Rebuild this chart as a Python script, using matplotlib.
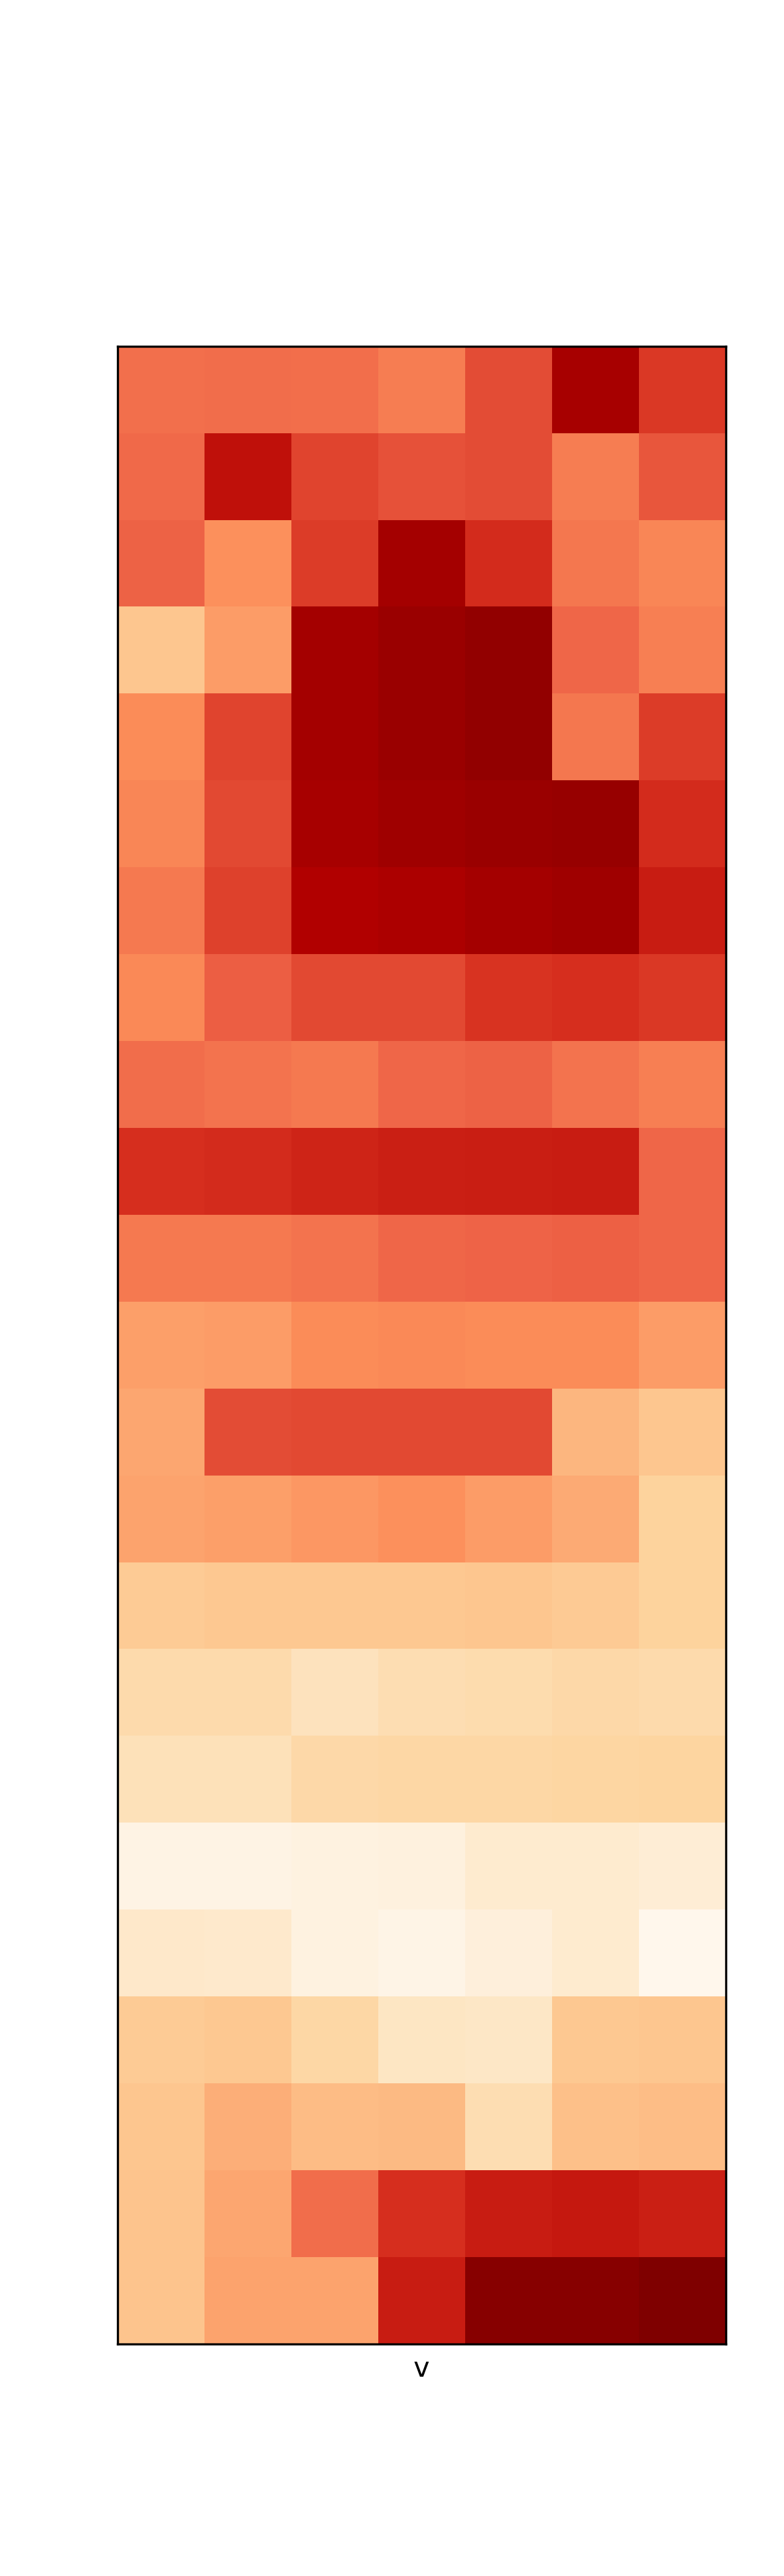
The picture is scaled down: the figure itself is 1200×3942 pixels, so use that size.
import numpy as np
import matplotlib
matplotlib.use("Agg")
import matplotlib.pyplot as plt

# cell values (OrRd scale, 0..1), top row first
row00 = [0.59, 0.60, 0.595, 0.55, 0.68, 0.90, 0.73]
row01 = [0.61, 0.83, 0.70, 0.67, 0.68, 0.55, 0.66]
row02 = [0.63, 0.49, 0.72, 0.91, 0.76, 0.57, 0.52]
row03 = [0.32, 0.46, 0.91, 0.93, 0.95, 0.62, 0.54]
row04 = [0.50, 0.70, 0.91, 0.93, 0.95, 0.57, 0.72]
row05 = [0.52, 0.69, 0.90, 0.92, 0.93, 0.94, 0.76]
row06 = [0.56, 0.71, 0.875, 0.89, 0.91, 0.92, 0.80]
row07 = [0.51, 0.64, 0.69, 0.69, 0.74, 0.75, 0.73]
row08 = [0.60, 0.58, 0.56, 0.62, 0.63, 0.58, 0.54]
row09 = [0.75, 0.76, 0.78, 0.79, 0.795, 0.80, 0.62]
row10 = [0.56, 0.56, 0.58, 0.62, 0.625, 0.635, 0.62]
row11 = [0.45, 0.46, 0.50, 0.51, 0.50, 0.50, 0.46]
row12 = [0.43, 0.68, 0.69, 0.69, 0.69, 0.39, 0.32]
row13 = [0.44, 0.45, 0.47, 0.49, 0.46, 0.42, 0.25]
row14 = [0.29, 0.31, 0.31, 0.31, 0.32, 0.30, 0.25]
row15 = [0.21, 0.21, 0.16, 0.19, 0.20, 0.22, 0.21]
row16 = [0.17, 0.17, 0.22, 0.23, 0.23, 0.235, 0.245]
row17 = [0.03, 0.03, 0.04, 0.05, 0.10, 0.10, 0.08]
row18 = [0.12, 0.11, 0.04, 0.02, 0.06, 0.10, 0.00]
row19 = [0.29, 0.31, 0.23, 0.14, 0.13, 0.31, 0.32]
row20 = [0.32, 0.41, 0.37, 0.375, 0.19, 0.35, 0.36]
row21 = [0.33, 0.43, 0.60, 0.75, 0.80, 0.81, 0.79]
row22 = [0.33, 0.44, 0.44, 0.80, 0.98, 0.98, 1.00]

rows = [row00, row01, row02, row03, row04, row05, row06, row07, row08,
        row09, row10, row11, row12, row13, row14, row15, row16, row17,
        row18, row19, row20, row21, row22]
data = np.array(rows)

fig = plt.figure(figsize=(4, 13.14), dpi=300)
ax = fig.add_axes([180 / 1200, 1 - 3587 / 3942, 931 / 1200, 3057 / 3942])
ax.imshow(data, cmap="OrRd", vmin=0, vmax=1, aspect="auto",
          interpolation="nearest")
ax.set_xticks([])
ax.set_yticks([])
ax.set_xlabel("v", fontsize=10)

fig.savefig("out.png", dpi=300)
